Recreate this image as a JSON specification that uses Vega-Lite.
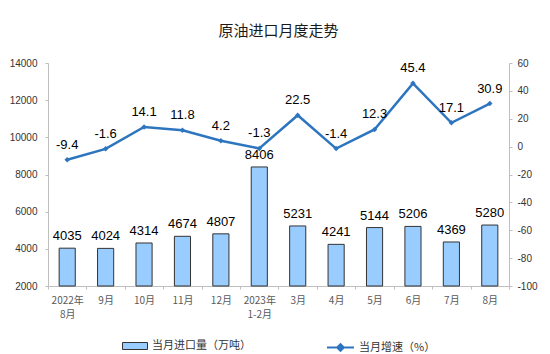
{
  "$schema": "https://vega.github.io/schema/vega-lite/v6.json",
  "width": 461,
  "height": 223,
  "autosize": {"type": "none"},
  "padding": {"left": 48, "top": 63, "right": 41, "bottom": 68},
  "background": "white",
  "title": {"text": "原油进口月度走势", "fontSize": 15, "fontWeight": "normal", "font": "Noto Sans CJK SC", "color": "#1a1a1a", "offset": 19, "anchor": "middle"},
  "data": {"values": [
    {"month": "2022年 8月", "volume": 4035, "growth": -9.4},
    {"month": "9月", "volume": 4024, "growth": -1.6},
    {"month": "10月", "volume": 4314, "growth": 14.1},
    {"month": "11月", "volume": 4674, "growth": 11.8},
    {"month": "12月", "volume": 4807, "growth": 4.2},
    {"month": "2023年 1-2月", "volume": 8406, "growth": -1.3},
    {"month": "3月", "volume": 5231, "growth": 22.5},
    {"month": "4月", "volume": 4241, "growth": -1.4},
    {"month": "5月", "volume": 5144, "growth": 12.3},
    {"month": "6月", "volume": 5206, "growth": 45.4},
    {"month": "7月", "volume": 4369, "growth": 17.1},
    {"month": "8月", "volume": 5280, "growth": 30.9}
  ]},
  "encoding": {
    "x": {"field": "month", "type": "nominal", "sort": null, "title": null,
      "scale": {"paddingInner": 0, "paddingOuter": 0},
      "axis": {"labelAngle": 0, "labelExpr": "split(datum.label, ' ')", "labelOverlap": false, "labelBound": false, "labelFontSize": 10, "labelColor": "#595959", "labelFont": "Noto Sans CJK SC", "domainColor": "#BFBFBF", "tickColor": "#BFBFBF", "tickSize": 3, "tickBand": "extent", "labelPadding": 6, "labelLineHeight": 14}}
  },
  "layer": [
    {
      "encoding": {
        "y": {"field": "volume", "type": "quantitative", "title": null,
          "scale": {"domain": [2000, 14000], "nice": false, "zero": false},
          "axis": {"values": [2000, 4000, 6000, 8000, 10000, 12000, 14000], "labelExpr": "'' + datum.value", "labelOverlap": false, "labelBound": false, "grid": false, "labelFontSize": 10, "labelColor": "#333333", "labelFont": "Liberation Sans", "domainColor": "#BFBFBF", "tickColor": "#BFBFBF", "tickSize": 3, "labelPadding": 8}}
      },
      "layer": [
        {"mark": {"type": "bar", "width": {"band": 0.42}, "stroke": "#333333", "strokeWidth": 1},
         "encoding": {
           "y2": {"datum": 2000},
           "fill": {"datum": "当月进口量（万吨）", "type": "nominal", "scale": {"range": ["#99CCFF"]},
             "legend": {"title": null, "symbolType": "M-1,-0.28H1V0.28H-1Z", "symbolSize": 625, "symbolStrokeColor": "#333333", "symbolStrokeWidth": 1, "labelFontSize": 11, "labelFont": "Noto Sans CJK SC", "labelColor": "#333333", "orient": "bottom", "offset": 14}}
         }},
        {"mark": {"type": "text", "baseline": "bottom", "dy": -5, "fontSize": 13, "font": "Liberation Sans", "color": "#000000"},
         "encoding": {
           "text": {"field": "volume", "type": "nominal"}
         }}
      ]
    },
    {
      "encoding": {
        "y": {"field": "growth", "type": "quantitative", "title": null,
          "scale": {"domain": [-100, 60], "nice": false},
          "axis": {"orient": "right", "values": [-100, -80, -60, -40, -20, 0, 20, 40, 60], "labelExpr": "'' + datum.value", "labelOverlap": false, "labelBound": false, "grid": false, "labelFontSize": 10, "labelColor": "#333333", "labelFont": "Liberation Sans", "domainColor": "#BFBFBF", "tickColor": "#BFBFBF", "tickSize": 3, "labelPadding": 5}}
      },
      "layer": [
        {"mark": {"type": "line", "strokeWidth": 2.5, "color": "#2E75C0"},
         "encoding": {
           "stroke": {"datum": "当月增速（%）", "type": "nominal", "scale": {"range": ["#2E75C0"]},
             "legend": {"title": null, "symbolType": "M-1,0H1M0,-0.25L0.25,0L0,0.25L-0.25,0Z", "symbolSize": 729, "symbolStrokeWidth": 2, "symbolFillColor": "#2E75C0", "labelFontSize": 11, "labelFont": "Noto Sans CJK SC", "labelColor": "#333333", "orient": "bottom", "offset": 14}}
         }},
        {"mark": {"type": "point", "shape": "diamond", "size": 30, "filled": true, "color": "#2E75C0", "opacity": 1},
         "encoding": {}},
        {"mark": {"type": "text", "baseline": "bottom", "dy": -8, "fontSize": 13, "font": "Liberation Sans", "color": "#000000"},
         "encoding": {
           "text": {"field": "growth", "type": "nominal"}
         }}
      ]
    }
  ],
  "resolve": {"scale": {"y": "independent"}},
  "config": {
    "view": {"stroke": null},
    "legend": {"layout": {"bottom": {"anchor": "middle", "direction": "horizontal", "margin": 75}}}
  }
}
